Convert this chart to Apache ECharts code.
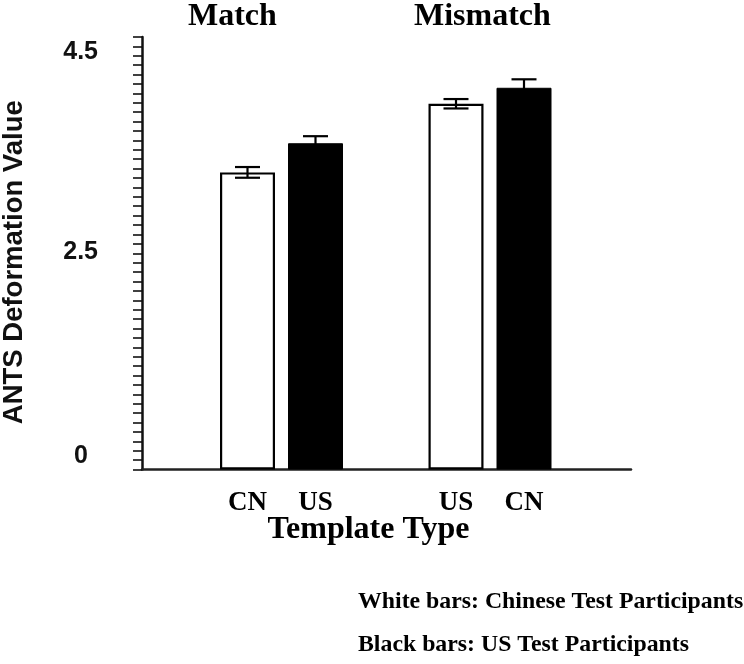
<!DOCTYPE html>
<html>
<head>
<meta charset="utf-8">
<script src="https://cdn.jsdelivr.net/npm/echarts@6/dist/echarts.min.js"></script>
<style>html,body{margin:0;padding:0;background:#fff}#c{width:744px;height:664px}</style>
</head>
<body>
<div id="c"></div>
<script>
// ---- data ----
const categories = ['Match', 'Mismatch'];
const whiteValues = [3.16, 3.89];   // Chinese test participants
const whiteErrors = [0.057, 0.05];
const blackValues = [3.47, 4.06];   // US test participants
const blackErrors = [0.075, 0.09];
const whiteTemplates = ['CN', 'US'];
const blackTemplates = ['US', 'CN'];
const yTickLabels = [0, 2.5, 4.5];
const footnotes = ['White bars: Chinese Test Participants', 'Black bars: US Test Participants'];

// ---- style constants ----
const BAR_W = 55, GAP = 13;
const SERIF = '"Liberation Serif", "Times New Roman", serif';
const SANS = '"Liberation Sans", Arial, sans-serif';
const GRID_TOP = 37, GRID_H = 432.5;

const chart = echarts.init(document.getElementById('c'));

function errSeries(name, values, errors, sign) {
  return {
    type: 'custom', name: name, xAxisIndex: 0, yAxisIndex: 0, z: 5,
    data: values.map((v, i) => [i, v, errors[i]]),
    renderItem(params, api) {
      const i = api.value(0), v = api.value(1), e = api.value(2);
      const off = sign * (BAR_W + GAP) / 2;
      const hi = api.coord([i, v + e]);
      const lo = api.coord([i, v - e]);
      const x = hi[0] + off, hw = 12.5;
      const st = { stroke: '#000', lineWidth: 2.2, fill: null };
      return { type: 'group', children: [
        { type: 'line', shape: { x1: x, y1: hi[1], x2: x, y2: lo[1] }, style: st },
        { type: 'line', shape: { x1: x - hw, y1: hi[1], x2: x + hw, y2: hi[1] }, style: st },
        { type: 'line', shape: { x1: x - hw, y1: lo[1], x2: x + hw, y2: lo[1] }, style: st }
      ]};
    }
  };
}

const YL = { fontFamily: SANS, fontWeight: 'bold', fontSize: 25, color: '#111' };
const yLabelRich = {
  lo: Object.assign({}, YL, { lineHeight: 52, verticalAlign: 'top', padding: [0, 10, 0, 0] }),
  mid: Object.assign({}, YL, { lineHeight: 60, verticalAlign: 'bottom' }),
  hi: Object.assign({}, YL, { lineHeight: 36, verticalAlign: 'bottom' })
};
const titleStyle = (size) => ({ fontFamily: SERIF, fontWeight: 'bold', fontSize: size, color: '#000' });

chart.setOption({
  animation: false,
  backgroundColor: '#fff',
  title: [
    { text: categories[0], left: 188, top: 1, padding: 0, textStyle: titleStyle(32) },
    { text: categories[1], left: 414, top: 1, padding: 0, textStyle: titleStyle(32) },
    { text: footnotes[0], left: 358, top: 590, padding: 0, textStyle: titleStyle(23.8) },
    { text: footnotes[1], left: 358, top: 633, padding: 0, textStyle: titleStyle(23.8) }
  ],
  grid: [
    { left: 177.25, width: 417, top: GRID_TOP, height: GRID_H, outerBoundsMode: 'none', containLabel: false },
    { left: 142, right: 113, top: GRID_TOP, height: GRID_H, outerBoundsMode: 'none', containLabel: false }
  ],
  xAxis: [
    { type: 'category', gridIndex: 0, data: categories, axisLine: { show: false }, axisTick: { show: false }, axisLabel: { show: false } },
    { type: 'value', gridIndex: 1, min: 0, max: 1, axisLine: { show: true, lineStyle: { color: '#222', width: 2.5 } },
      axisTick: { show: false }, axisLabel: { show: false }, splitLine: { show: false },
      name: 'Template Type', nameLocation: 'middle', nameGap: 44,
      nameTextStyle: { fontFamily: SERIF, fontWeight: 'bold', fontSize: 32, color: '#000', padding: [0, 36, 0, 0] } }
  ],
  yAxis: [
    { type: 'value', gridIndex: 0, min: 0, max: 4.6, show: false, splitLine: { show: false } },
    { type: 'value', gridIndex: 1, min: 0, max: 4.6, interval: 0.1,
      axisLine: { show: true, lineStyle: { color: '#111', width: 2.5 } },
      axisTick: { show: true, length: 9, lineStyle: { color: '#111', width: 1.6 } },
      splitLine: { show: false },
      axisLabel: {
        margin: 44, rich: yLabelRich,
        formatter: function (v) {
          const idx = yTickLabels.findIndex(t => Math.abs(t - v) < 1e-6);
          if (idx < 0) return '';
          const key = ['lo', 'mid', 'hi'][idx];
          return '{' + key + '|' + yTickLabels[idx] + '}';
        }
      },
      name: 'ANTS Deformation Value', nameLocation: 'middle', nameGap: 114, nameRotate: 90,
      nameTextStyle: { fontFamily: SANS, fontWeight: 'bold', fontSize: 27.5, color: '#111', padding: [0, 18, 0, 0] }
    }
  ],
  series: [
    { type: 'bar', name: 'Chinese Test Participants', xAxisIndex: 0, yAxisIndex: 0, data: whiteValues,
      barWidth: BAR_W, barGap: (GAP / BAR_W * 100) + '%',
      itemStyle: { color: '#fff', borderColor: '#000', borderWidth: 2.2 },
      label: { show: true, position: 'bottom', distance: 20, formatter: p => whiteTemplates[p.dataIndex],
        fontFamily: SERIF, fontWeight: 'bold', fontSize: 27, color: '#000' } },
    { type: 'bar', name: 'US Test Participants', xAxisIndex: 0, yAxisIndex: 0, data: blackValues,
      barWidth: BAR_W, barGap: (GAP / BAR_W * 100) + '%',
      itemStyle: { color: '#000', borderColor: '#000', borderWidth: 1 },
      label: { show: true, position: 'bottom', distance: 20, formatter: p => blackTemplates[p.dataIndex],
        fontFamily: SERIF, fontWeight: 'bold', fontSize: 27, color: '#000' } },
    errSeries('err-white', whiteValues, whiteErrors, -1),
    errSeries('err-black', blackValues, blackErrors, 1)
  ]
});
</script>
</body>
</html>
